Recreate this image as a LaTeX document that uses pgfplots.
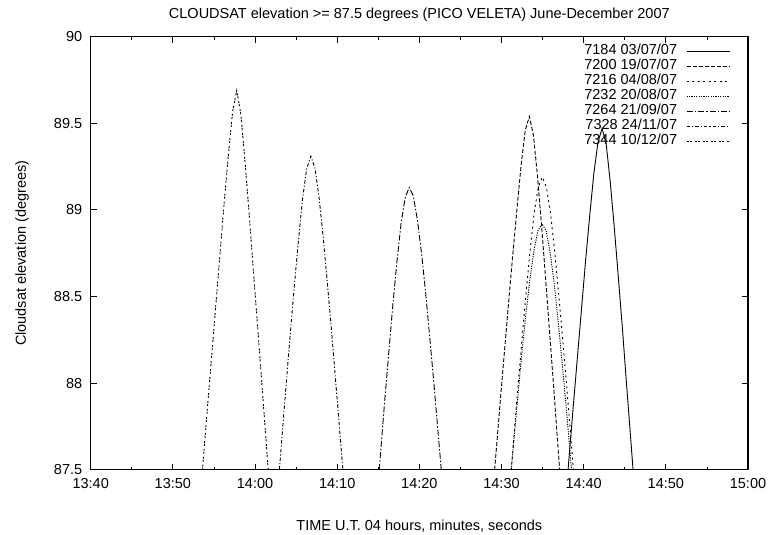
\documentclass[border=0pt]{standalone}
\usepackage{fontspec}
\setmainfont{Liberation Sans}
\usepackage{pgfplots}
\pgfplotsset{compat=1.18}
\newcommand\fsz{\fontsize{14.5bp}{17bp}\selectfont}
\begin{document}
\begin{tikzpicture}[font=\fsz]
\useasboundingbox (0,0) rectangle (769bp,535bp);
\begin{axis}[
  at={(90.7bp,65.3bp)}, anchor=south west,
  scale only axis, width=657.3bp, height=433bp,
  xmin=40, xmax=120, ymin=87.5, ymax=90,
  xtick={40,50,...,120},
  xticklabels={13:40,13:50,14:00,14:10,14:20,14:30,14:40,14:50,15:00},
  minor x tick num=1,
  ytick={87.5,88,88.5,89,89.5,90},
  /pgf/number format/assume math mode=true,
  tick label style={font=\fsz},
  label style={font=\fsz},
  xticklabel style={yshift=-5bp},
  yticklabel style={xshift=-5bp},
  major tick length=6bp, minor tick length=3bp,
  every tick/.style={black, line width=0.8bp},
  axis line style={line width=1.3bp},
  title={CLOUDSAT elevation >= 87.5 degrees (PICO VELETA) June-December 2007},
  title style={font=\fsz, at={(axis description cs:0.5,1.038)}, anchor=center},
  xlabel={TIME U.T. 04 hours, minutes, seconds},
  xlabel style={at={(axis description cs:0.5,-0.130)}, anchor=center},
  ylabel={Cloudsat elevation (degrees)},
  ylabel style={at={(axis description cs:-0.1045,0.5)}, anchor=center},
  every axis plot/.append style={black, line width=0.9bp, no marks},
  legend plot pos=right,
  legend cell align=right,
  legend image code/.code={\draw[#1] (0bp,0bp) -- (43bp,0bp);},
  legend style={draw=none, fill=none, font=\fsz,
    at={(axis description cs:1,1)}, anchor=north east,
    xshift=-18bp, yshift=-7.5bp, inner sep=0pt, outer sep=0pt,
    row sep=0bp, column sep=9bp,
    nodes={inner sep=0pt, text height=10.5bp, text depth=4.5bp}},
]
% 7184 03/07/07
\addplot[solid] coordinates {(98.10,87.5) (98.24,87.58) (98.74,87.87) (99.24,88.15) (99.74,88.43) (100.24,88.71) (100.74,88.97) (101.24,89.21) (101.74,89.39) (102.24,89.47) (102.74,89.38) (103.24,89.16) (103.74,88.89) (104.24,88.60) (104.74,88.30) (105.24,87.98) (105.74,87.67) (106.01,87.5)};
\addlegendentry{7184 03/07/07}
% 7200 19/07/07
\addplot[dash pattern=on 4bp off 2bp] coordinates {(89.16,87.5) (89.39,87.63) (89.89,87.92) (90.39,88.20) (90.89,88.48) (91.39,88.75) (91.89,89.01) (92.39,89.26) (92.89,89.46) (93.39,89.54) (93.89,89.43) (94.39,89.19) (94.89,88.90) (95.39,88.59) (95.89,88.27) (96.39,87.95) (96.89,87.62) (97.08,87.5)};
\addlegendentry{7200 19/07/07}
% 7216 04/08/07
\addplot[dash pattern=on 2bp off 3.5bp] coordinates {(91.19,87.5) (91.47,87.67) (91.97,87.96) (92.47,88.24) (92.97,88.51) (93.47,88.76) (93.97,88.98) (94.47,89.13) (94.97,89.19) (95.47,89.13) (95.97,88.98) (96.47,88.76) (96.97,88.51) (97.47,88.24) (97.97,87.96) (98.47,87.67) (98.75,87.5)};
\addlegendentry{7216 04/08/07}
% 7232 20/08/07
\addplot[dash pattern=on 1.2bp off 1.2bp] coordinates {(91.19,87.5) (91.43,87.63) (91.93,87.89) (92.43,88.15) (92.93,88.38) (93.43,88.59) (93.93,88.76) (94.43,88.88) (94.93,88.92) (95.43,88.88) (95.93,88.75) (96.43,88.57) (96.93,88.34) (97.43,88.09) (97.93,87.83) (98.43,87.55) (98.52,87.5)};
\addlegendentry{7232 20/08/07}
% 7264 21/09/07
\addplot[dash pattern=on 6bp off 2bp on 1.5bp off 2bp] coordinates {(75.12,87.5) (75.27,87.59) (75.77,87.89) (76.27,88.17) (76.77,88.45) (77.27,88.70) (77.77,88.92) (78.27,89.07) (78.77,89.13) (79.27,89.08) (79.77,88.94) (80.27,88.75) (80.77,88.52) (81.27,88.26) (81.77,88.00) (82.27,87.72) (82.67,87.5)};
\addlegendentry{7264 21/09/07}
% 7328 24/11/07
\addplot[dash pattern=on 3.5bp off 2bp on 1.2bp off 2bp] coordinates {(62.97,87.5) (63.30,87.70) (63.80,88.00) (64.30,88.29) (64.80,88.57) (65.30,88.83) (65.80,89.07) (66.30,89.24) (66.80,89.31) (67.30,89.24) (67.80,89.07) (68.30,88.84) (68.80,88.58) (69.30,88.31) (69.80,88.02) (70.30,87.73) (70.69,87.5)};
\addlegendentry{7328 24/11/07}
% 7344 10/12/07
\addplot[dash pattern=on 2bp off 1bp on 2bp off 3bp] coordinates {(53.60,87.5) (54.28,87.90) (54.78,88.19) (55.28,88.48) (55.78,88.77) (56.28,89.06) (56.78,89.33) (57.28,89.57) (57.78,89.69) (58.28,89.55) (58.78,89.28) (59.28,88.98) (59.78,88.66) (60.28,88.35) (60.78,88.03) (61.28,87.71) (61.60,87.5)};
\addlegendentry{7344 10/12/07}
\end{axis}
\end{tikzpicture}
\end{document}
